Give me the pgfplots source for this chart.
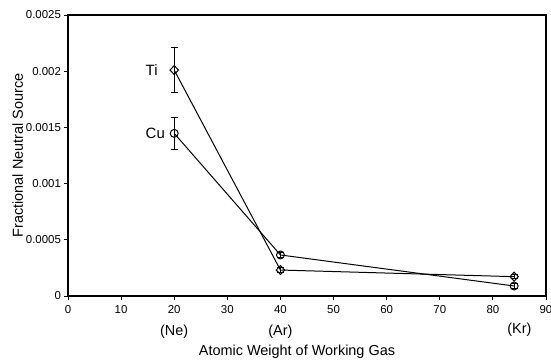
\documentclass[border=0pt]{standalone}
\usepackage{pgfplots}
\pgfplotsset{compat=1.18}
\usepackage{fontspec}
\setmainfont{Liberation Sans}
\begin{document}
\begin{tikzpicture}
\path[use as bounding box] (-68bp,-64bp) rectangle (483bp,296bp);
\begin{axis}[
  at={(0,0)}, anchor=south west,
  scale only axis,
  width=478bp, height=281bp,
  xmin=0, xmax=90, ymin=0, ymax=0.0025,
  xtick={0,10,...,90},
  ytick={0,0.0005,0.001,0.0015,0.002,0.0025},
  yticklabels={0,0.0005,0.001,0.0015,0.002,0.0025},
  scaled y ticks=false,
  /pgf/number format/assume math mode=true,
  tick align=outside,
  xtick pos=bottom, ytick pos=left,
  major tick length=3.5bp,
  tick style={black, line width=1pt},
  axis line style={line width=1.1pt},
  ticklabel style={font=\fontsize{11.5}{13}\selectfont},
  xticklabel style={yshift=-2bp},
  xlabel={Atomic Weight of Working Gas},
  ylabel={Fractional Neutral Source},
  label style={font=\fontsize{14.5}{16}\selectfont},
  xlabel style={at={(axis description cs:0.479,0)}, anchor=center, yshift=-56bp},
  ylabel style={at={(axis description cs:-0.105,0.5)}, anchor=center},
  clip=false,
]
\addplot[black, line width=1pt, mark=diamond, mark size=4.5pt,
  mark options={fill=white, line width=1pt, xscale=1.25},
  error bars/.cd, y dir=both, y explicit,
  error bar style={line width=1pt}, error mark options={rotate=90, mark size=3.5pt, line width=1pt}]
  coordinates {
    (20,0.00201) +- (0,0.00020)
    (40,0.000231) +- (0,0.00002)
    (84,0.000172) +- (0,0.00002)
  };
\addplot[black, line width=1pt, mark=o, mark size=4pt,
  mark options={fill=white, line width=1pt},
  error bars/.cd, y dir=both, y explicit,
  error bar style={line width=1pt}, error mark options={rotate=90, mark size=3.5pt, line width=1pt}]
  coordinates {
    (20,0.001447) +- (0,0.000142)
    (40,0.000365) +- (0,0.00002)
    (84,0.000089) +- (0,0.00002)
  };
\node[anchor=west, font=\fontsize{15}{17}\selectfont] at (axis cs:20,0.00201) [xshift=-32bp] {Ti};
\node[anchor=west, font=\fontsize{15}{17}\selectfont] at (axis cs:20,0.001447) [xshift=-32bp] {Cu};
\node[font=\fontsize{14.5}{16}\selectfont] at (axis cs:20,0) [yshift=-36bp] {(Ne)};
\node[font=\fontsize{14.5}{16}\selectfont] at (axis cs:40,0) [yshift=-36bp] {(Ar)};
\node[font=\fontsize{14.5}{16}\selectfont] at (axis cs:85,0) [yshift=-34bp] {(Kr)};
\end{axis}
\end{tikzpicture}
\end{document}
